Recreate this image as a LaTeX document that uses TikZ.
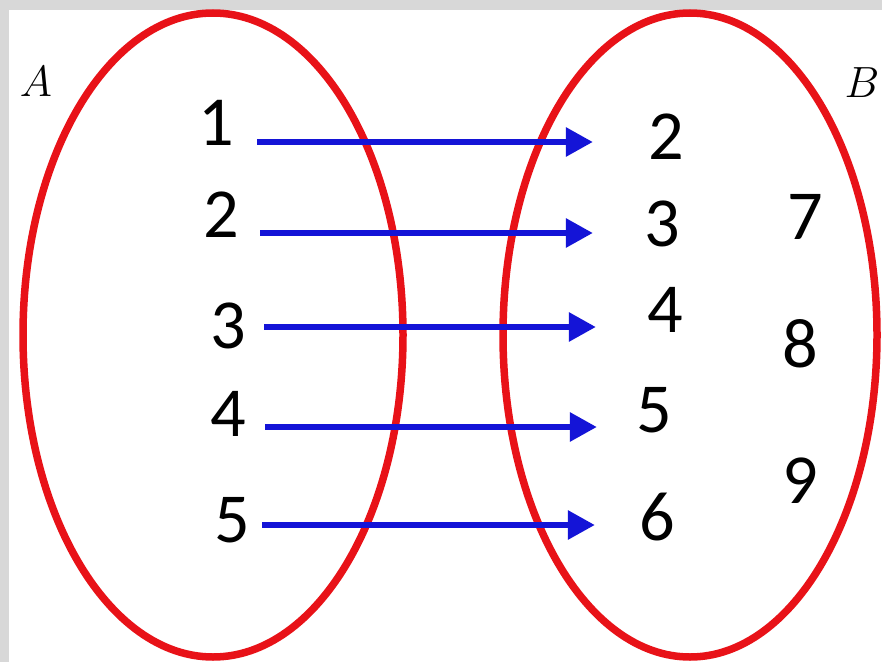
\documentclass[tikz,border=0pt]{standalone}
\usepackage{fontspec}
\setmainfont{Carlito}
\usepackage{tikz}
\usetikzlibrary{arrows.meta}
\definecolor{setred}{RGB}{232,18,24}
\definecolor{mapblue}{RGB}{20,20,215}
\definecolor{framegray}{RGB}{216,216,216}

\begin{document}
\begin{tikzpicture}[x=0.02cm,y=-0.02cm,
    elt/.style={inner sep=0pt,font=\fontsize{40}{48}\selectfont},
    setlabel/.style={inner sep=0pt,font=\fontsize{31}{36}\selectfont},
    maparrow/.style={-{Triangle[length=0.54cm,width=0.56cm]},mapblue,line width=0.12cm}]

        %------------------
        % 背景と枠
        %------------------
        \fill[framegray] (0,0) rectangle (882,662);
        \fill[white] (9,10) rectangle (882,662);
        \useasboundingbox (0,0) rectangle (882,662);

        %------------------
        % 集合 A, B
        %------------------
        \draw[setred, line width=0.15cm] (213,335) ellipse (190 and 322);
        \draw[setred, line width=0.15cm] (690,335) ellipse (187 and 322);

        \node[setlabel] (A) at (36,82) {$A$};
        \node[setlabel] (B) at (862,83) {$B$};

        %------------------
        % 要素
        %------------------
        \foreach \n/\x/\y in {1/216/123, 2/221/215, 3/228/326, 4/228/414, 5/232/520}
          \node[elt] (a\n) at (\x,\y) {\n};
        \foreach \n/\x/\y in {2/666/137, 3/662/224, 4/665/310, 5/654/410, 6/657/517,
                              7/805/217, 8/800/344, 9/800/481}
          \node[elt] (b\n) at (\x,\y) {\n};

        %------------------
        % 対応（矢印）
        %------------------
        \foreach \a/\b/\y/\s/\t in {1/2/142/0.46/1.10, 2/3/233/0.42/1.02, 3/4/327/0.36/1.02,
                                    4/5/427/0.38/0.78, 5/6/525/0.24/0.88}
          \draw[maparrow, shorten <=\s cm, shorten >=\t cm]
            (a\a.east |- 0,\y) -- (b\b.west |- 0,\y);
      \end{tikzpicture}
\end{document}
